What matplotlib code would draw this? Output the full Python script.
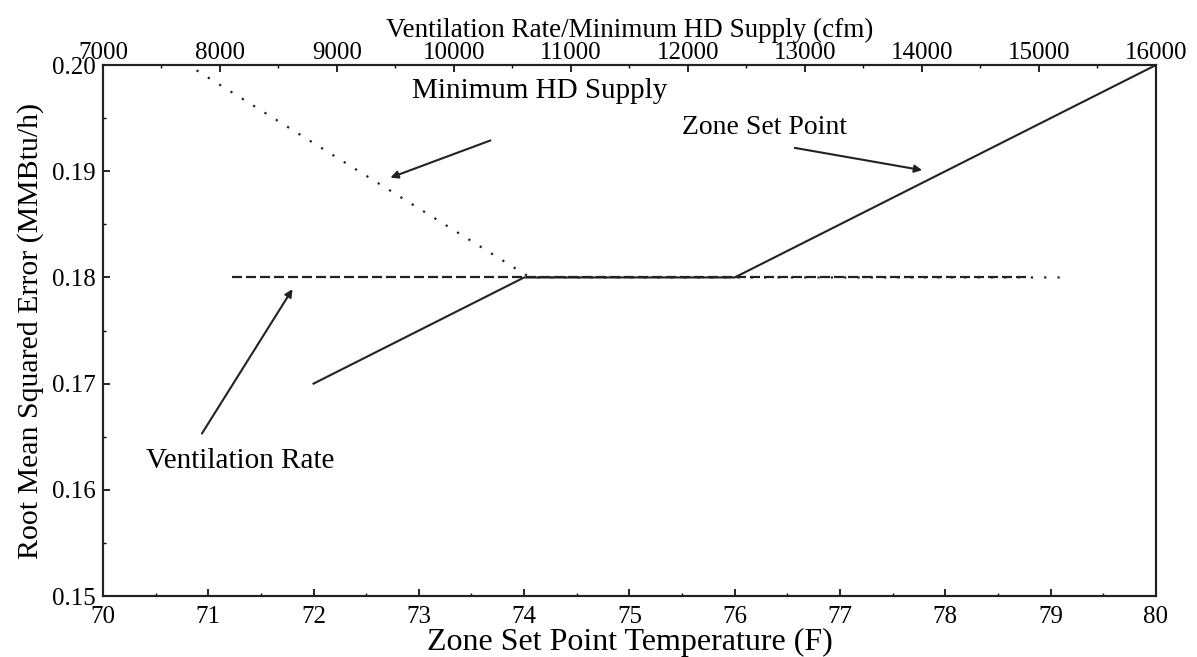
import numpy as np
import matplotlib.pyplot as plt
from matplotlib.ticker import MultipleLocator

plt.rcParams['font.family'] = ['Liberation Serif', 'DejaVu Serif']

# Zone set point temperature (F) vs RMSE
zone_temp = [72, 74, 76, 80]
zone_rmse = [0.170, 0.180, 0.180, 0.200]

# Ventilation rate (cfm) vs RMSE
vent_cfm = [8100, 14900]
vent_rmse = [0.180, 0.180]

# Minimum HD supply (cfm) vs RMSE
hd_cfm = [7800, 10650, 15250]
hd_rmse = [0.1995, 0.180, 0.180]

fig = plt.figure(figsize=(11.97, 6.57), dpi=100)
ax = fig.add_axes([0.086, 0.0928, 0.8797, 0.8082])
ax2 = ax.twiny()

# dotted and dashed on the cfm axis, solid on the temperature axis
ax2.plot(hd_cfm, hd_rmse, color='#222222', lw=1.6, linestyle=(0, (1, 5.0)))
ax2.plot(vent_cfm, vent_rmse, color='#222222', lw=1.6, linestyle=(0, (4.5, 1.8)))
ax.plot(zone_temp, zone_rmse, color='#222222', lw=1.5, zorder=5)

ax.set_xlim(70, 80)
ax.set_ylim(0.15, 0.20)
ax2.set_xlim(7000, 16000)

ax.xaxis.set_major_locator(MultipleLocator(1))
ax.xaxis.set_minor_locator(MultipleLocator(0.5))
ax.yaxis.set_major_locator(MultipleLocator(0.01))
ax.yaxis.set_minor_locator(MultipleLocator(0.005))
ax.yaxis.set_major_formatter(plt.FormatStrFormatter('%.2f'))
ax2.xaxis.set_major_locator(MultipleLocator(1000))
ax2.xaxis.set_minor_locator(MultipleLocator(500))

ax.tick_params(axis='both', which='major', direction='in', length=5, width=1.2,
               labelsize=18)
ax.tick_params(axis='x', which='major', pad=7)
ax.tick_params(axis='y', which='major', pad=5)
ax.tick_params(axis='both', which='minor', direction='in', length=2.5, width=1)
ax2.tick_params(axis='x', which='major', direction='in', length=5, width=1.2,
                labelsize=18, pad=0.5)
ax2.tick_params(axis='x', which='minor', direction='in', length=2.5, width=1)

for a in (ax, ax2):
    for s in a.spines.values():
        s.set_linewidth(1.5)
        s.set_color('#222222')

ax.set_xlabel('Zone Set Point Temperature (F)', fontsize=23, labelpad=0)
ax.set_ylabel('Root Mean Squared Error (MMBtu/h)', fontsize=21.5, labelpad=6)
ax2.set_xlabel('Ventilation Rate/Minimum HD Supply (cfm)', fontsize=19.5, labelpad=4)

arrow = dict(arrowstyle='-|>', color='#222222', lw=1.5, mutation_scale=11,
             shrinkA=0, shrinkB=0)
ax.text(74.15, 0.1976, 'Minimum HD Supply', fontsize=21, ha='center', va='center')
ax.annotate('', xy=(72.73, 0.1894), xytext=(73.68, 0.1929), arrowprops=arrow)
ax.text(76.28, 0.1941, 'Zone Set Point', fontsize=20, ha='center', va='center')
ax.annotate('', xy=(77.78, 0.1901), xytext=(76.57, 0.1922), arrowprops=arrow)
ax.text(71.30, 0.1627, 'Ventilation Rate', fontsize=21, ha='center', va='center')
ax.annotate('', xy=(71.80, 0.1789), xytext=(70.94, 0.1653), arrowprops=arrow)

fig.savefig('out.png', dpi=100)
